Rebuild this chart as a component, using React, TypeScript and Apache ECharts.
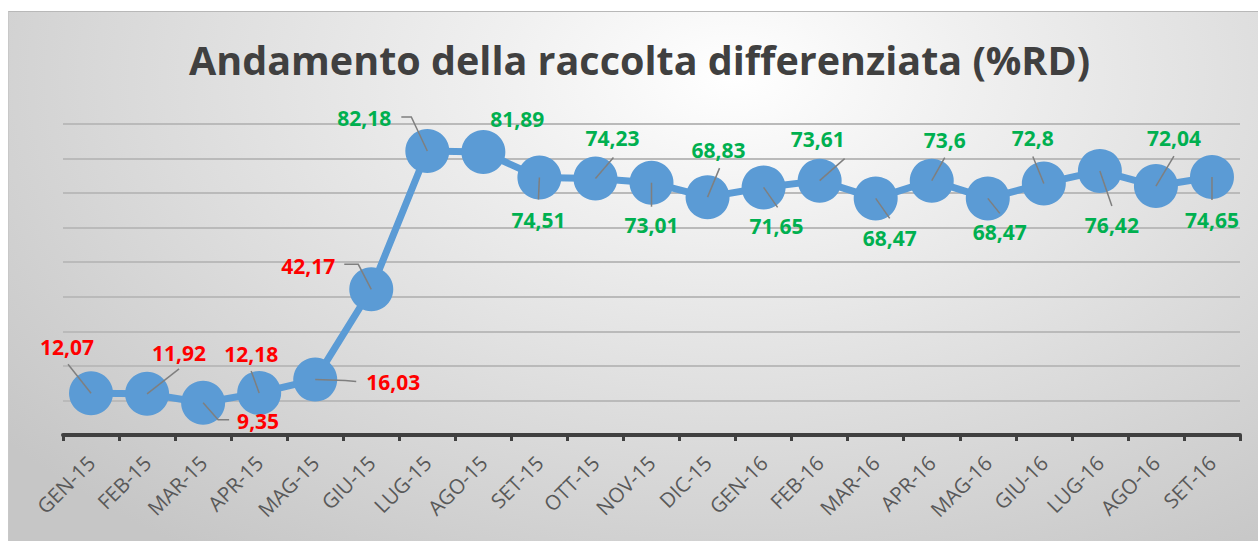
import React, { useEffect, useRef } from "react";
import * as echarts from "echarts";

const categories = [
  "GEN-15", "FEB-15", "MAR-15", "APR-15", "MAG-15", "GIU-15", "LUG-15",
  "AGO-15", "SET-15", "OTT-15", "NOV-15", "DIC-15", "GEN-16", "FEB-16",
  "MAR-16", "APR-16", "MAG-16", "GIU-16", "LUG-16", "AGO-16", "SET-16",
];

const rdValues = [
  12.07, 11.92, 9.35, 12.18, 16.03, 42.17, 82.18, 81.89, 74.51, 74.23, 73.01,
  68.83, 71.65, 73.61, 68.47, 73.6, 68.47, 72.8, 76.42, 72.04, 74.65,
];

// label placement relative to each point (pixels)
const labelOffsets: number[][] = [
  [-24, -46], [32, -41], [55, 18], [-8, -39], [78, 2], [-63, -23], [-63, -33],
  [34, -33], [-1, 42], [17, -40], [0, 42], [11, -47], [13, 39], [-2, -42],
  [14, 40], [13, -41], [12, 34], [-11, -45], [12, 54], [18, -48], [0, 43],
];

// leader-line polyline points relative to each point (pixels)
const leaderPoints: number[][][] = [
  [[0, 0], [-23, -29]],
  [[0, 0], [32, -25]],
  [[0, 0], [15, 17], [26, 17]],
  [[0, 0], [-8, -22]],
  [[0, 0], [30, 1], [41, 2]],
  [[0, 0], [-13, -25], [-27, -25]],
  [[0, 0], [-16, -34], [-26, -34]],
  [],
  [[0, 0], [-1, 22]],
  [[0, 0], [18, -21]],
  [[0, 0], [0, 24]],
  [[0, 0], [12, -29]],
  [[0, 0], [14, 20]],
  [[0, 0], [25, -22]],
  [[0, 0], [14, 20]],
  [[0, 0], [13, -23]],
  [[0, 0], [12, 15]],
  [[0, 0], [-11, -27]],
  [[0, 0], [12, 35]],
  [[0, 0], [18, -30]],
  [[0, 0], [0, 23]],
];

const RED = "#FF0000";
const GREEN = "#00B050";
const BLUE = "#5B9BD5";

const fmt = (v: number) => String(v).replace(".", ",");

export default function App() {
  const ref = useRef<HTMLDivElement>(null);

  useEffect(() => {
    if (!ref.current) return;
    const chart = echarts.init(ref.current, null, { renderer: "svg" });

    const lineData = rdValues.map((v, i) => ({
      value: v,
      label: {
        offset: labelOffsets[i],
        color: i < 6 ? RED : GREEN,
      },
    }));

    chart.setOption({
      animation: false,
      backgroundColor: "transparent",
      title: {
        text: "Andamento della raccolta differenziata (%RD)",
        left: 175,
        top: 23,
        textStyle: {
          fontFamily: "Open Sans",
          fontWeight: "bold",
          fontSize: 39.5,
          color: "#404040",
        },
      },
      grid: { left: 54, right: 18, top: 112, bottom: 106 },
      xAxis: {
        type: "category",
        data: categories,
        boundaryGap: true,
        axisLine: { show: true, lineStyle: { color: "#404040", width: 4 } },
        axisTick: { show: true, length: 6, lineStyle: { color: "#404040", width: 3 } },
        axisLabel: {
          rotate: 45,
          margin: 24,
          fontFamily: "Open Sans",
          fontSize: 20.5,
          color: "#595959",
          interval: 0,
        },
        splitLine: { show: false },
      },
      yAxis: {
        type: "value",
        min: 0,
        max: 90,
        interval: 10,
        axisLabel: { show: false },
        axisLine: { show: false },
        axisTick: { show: false },
        splitLine: { show: true, lineStyle: { color: "#bababa", width: 2 } },
      },
      series: [
        {
          type: "line",
          data: lineData,
          symbol: "circle",
          symbolSize: 44,
          z: 2,
          lineStyle: { color: BLUE, width: 7 },
          itemStyle: { color: BLUE },
          label: {
            show: true,
            position: "inside",
            formatter: (p: any) => fmt(p.value),
            fontFamily: "Open Sans",
            fontWeight: "bold",
            fontSize: 21,
          },
          emphasis: { disabled: true },
        },
        {
          type: "custom",
          coordinateSystem: "cartesian2d",
          z: 5,
          silent: true,
          data: rdValues.map((v, i) => [i, v]),
          renderItem: (params: any, api: any) => {
            const pts = leaderPoints[params.dataIndex];
            if (!pts || pts.length < 2) return { type: "group", children: [] };
            const c = api.coord([api.value(0), api.value(1)]);
            return {
              type: "polyline",
              shape: { points: pts.map((p) => [c[0] + p[0], c[1] + p[1]]) },
              style: { stroke: "#7f7f7f", lineWidth: 1.5, fill: null },
            };
          },
        },
      ],
    });

    return () => chart.dispose();
  }, []);

  return (
    <div
      ref={ref}
      style={{
        position: "absolute",
        left: 8,
        top: 11,
        width: 1250,
        height: 530,
        boxSizing: "border-box",
        borderTop: "1px solid #b8b8b8",
        borderLeft: "1px solid #c8c8c8",
        background:
          "radial-gradient(ellipse 75% 110% at 58% 12%, #ffffff 0%, #f0f0f0 25%, #c6c6c6 100%)",
      }}
    />
  );
}
